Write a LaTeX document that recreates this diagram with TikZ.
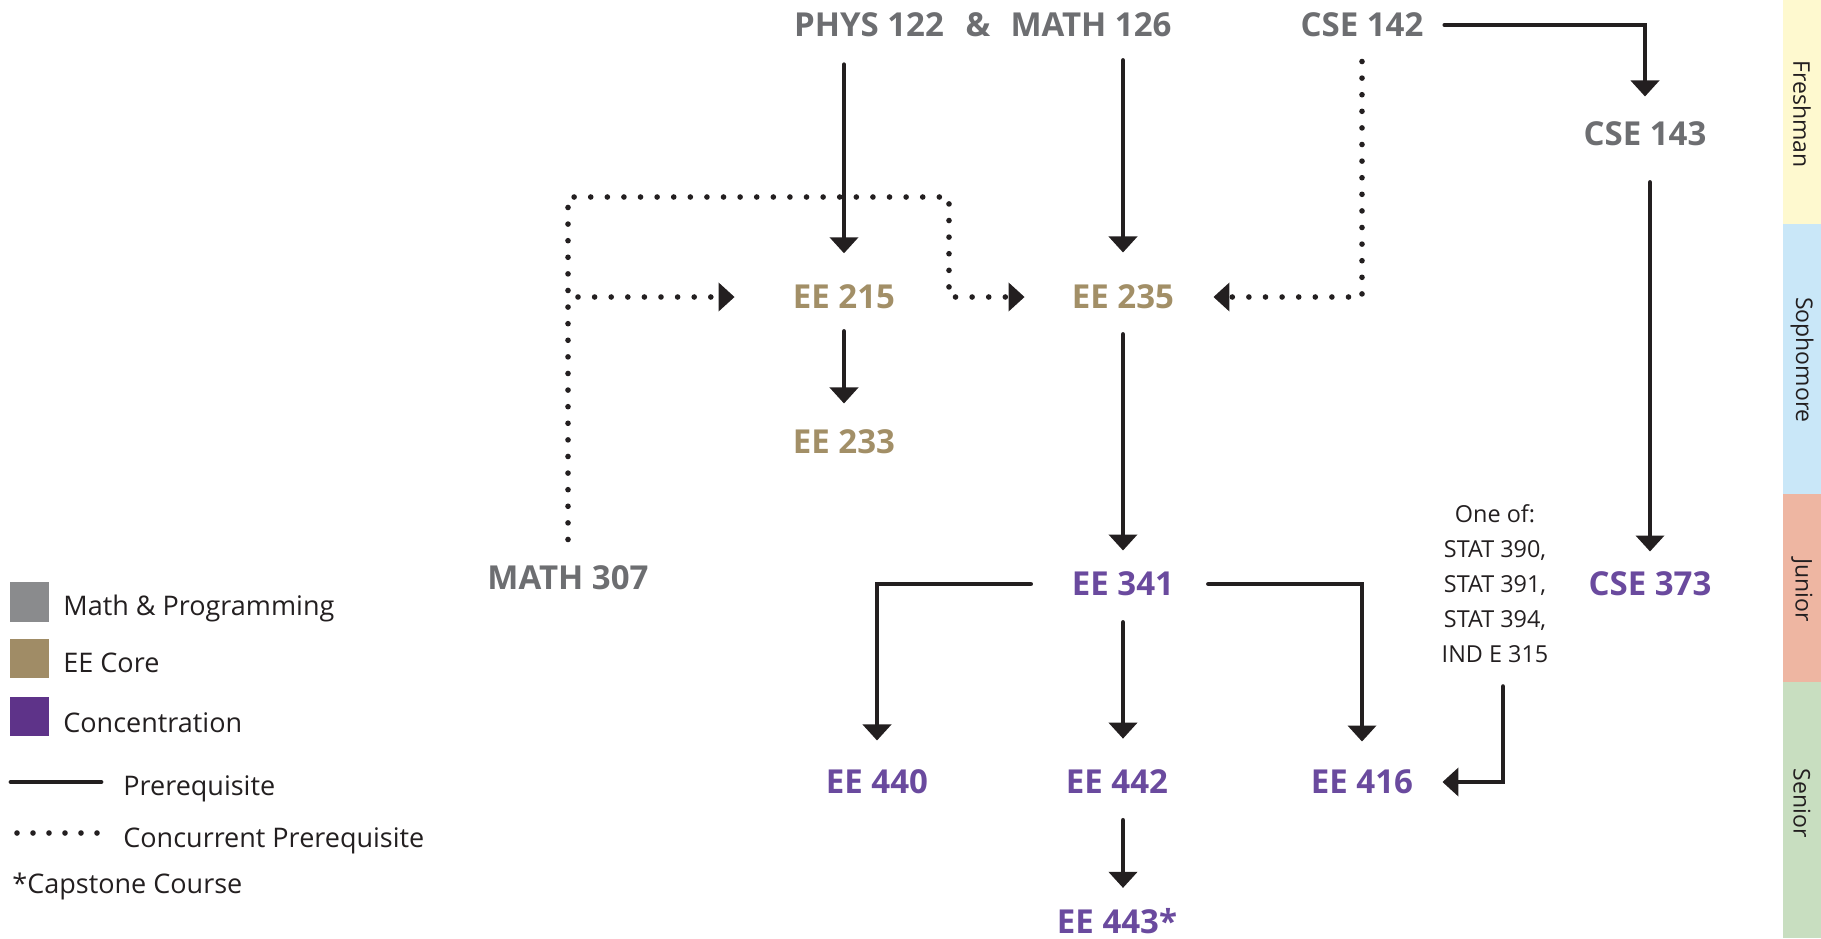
\documentclass[tikz,border=0pt]{standalone}
\usepackage{fontspec}
\setmainfont{Open Sans}
\usetikzlibrary{arrows.meta}
\definecolor{cgray}{HTML}{6D6E71}
\definecolor{cgold}{HTML}{A28F67}
\definecolor{cpurple}{HTML}{6A4A9E}
\definecolor{sqgray}{HTML}{8A8B8D}
\definecolor{sqgold}{HTML}{A08C66}
\definecolor{sqpurple}{HTML}{5E3389}
\definecolor{cdark}{HTML}{231F20}
\definecolor{bfresh}{HTML}{FEF9CF}
\definecolor{bsoph}{HTML}{C9E7F8}
\definecolor{bjun}{HTML}{EEB6A2}
\definecolor{bsen}{HTML}{C8DEC0}
\tikzset{
  course/.style={font=\fontsize{16.5}{20}\selectfont\bfseries, inner sep=0pt},
  mathc/.style={course, text=cgray},
  corec/.style={course, text=cgold},
  concc/.style={course, text=cpurple},
  pre/.style={draw=cdark, line width=2.4pt, line cap=round, -{Triangle[width=14pt,length=8pt]}},
  dotpre/.style={draw=cdark, line width=2.8pt, line cap=round, dash pattern=on 0pt off 8.3pt, -{Triangle[width=14pt,length=8pt]}},
  legtext/.style={font=\fontsize{13.5}{16}\selectfont, text=cdark, inner sep=0pt, anchor=base west},
  bandtext/.style={font=\fontsize{11.5}{14}\selectfont, text=cdark, rotate=-90, inner sep=0pt},
}
\begin{document}
\begin{tikzpicture}[x=0.5pt,y=-0.5pt]
\useasboundingbox (0,0) rectangle (1821,938);

% year bands
\fill[bfresh] (1783,0) rectangle (1821,224);
\fill[bsoph] (1783,224) rectangle (1821,494);
\fill[bjun] (1783,494) rectangle (1821,682);
\fill[bsen] (1783,682) rectangle (1821,938);
\node[bandtext] (fresh) at (1802,114) {Freshman};
\node[bandtext] (soph) at (1802,360) {Sophomore};
\node[bandtext] (jun) at (1802,590) {Junior};
\node[bandtext] (sen) at (1802,803) {Senior};

% courses
\node[mathc] (phys) at (869,25) {PHYS 122};
\node[mathc] (amp) at (978,25) {\&};
\node[mathc] (math126) at (1091,25) {MATH 126};
\node[mathc] (cse142) at (1362,25) {CSE 142};
\node[mathc] (cse143) at (1645,134) {CSE 143};
\node[corec] (ee215) at (844,297) {EE 215};
\node[corec] (ee235) at (1123,297) {EE 235};
\node[corec] (ee233) at (844,442) {EE 233};
\node[mathc] (math307) at (568,578) {MATH 307};
\node[concc] (ee341) at (1123,584) {EE 341};
\node[concc] (cse373) at (1650,584) {CSE 373};
\node[concc] (ee440) at (877,782) {EE 440};
\node[concc] (ee442) at (1117,782) {EE 442};
\node[concc] (ee416) at (1362,782) {EE 416};
\node[concc] (ee443) at (1117,921) {EE 443*};
\node[font=\fontsize{11.7}{17.5}\selectfont, text=cdark, align=center, anchor=base, inner sep=0pt] (oneof) at (1495,662)
  {One of:\\STAT 390,\\STAT 391,\\STAT 394,\\IND E 315};

% prerequisites (solid)
\draw[pre, shorten <=13.6pt, shorten >=15.6pt] (phys.south -| ee215.north) -- (ee215.north);
\draw[pre, shorten <=11.5pt, shorten >=16pt] (math126.south -| ee235.north) -- (ee235.north);
\draw[pre, shorten <=11pt, shorten >=13pt] (ee215.south) -- (ee233.north);
\draw[pre, shorten <=12.5pt, shorten >=10.5pt] (ee235.south) -- (ee341.north);
\draw[pre, shorten <=10.5pt, shorten >=12.5pt] (cse142.east) -| (cse143.north);
\draw[pre, shorten <=18pt, shorten >=10pt] (cse143.south -| cse373.north) -- (cse373.north);
\draw[pre, shorten <=20.5pt, shorten >=14.5pt] (ee341.west) -| (ee440.north);
\draw[pre, shorten <=13pt, shorten >=15.5pt] (ee341.south) -- (ee341.south |- ee442.north);
\draw[pre, shorten <=17pt, shorten >=14pt] (ee341.east) -| (ee416.north);
\draw[pre, shorten <=13pt, shorten >=10pt] (ee442.south -| ee341.south) -- (ee443.north -| ee341.south);
\draw[pre, shorten <=12pt, shorten >=14.5pt] ([xshift=4pt]oneof.south) |- (ee416.east);

% concurrent prerequisites (dotted)
\coordinate (dk) at (949,197);
\draw[dotpre, shorten <=13pt, shorten >=23.5pt] (math307.north) |- (dk) |- (ee235.west);
\draw[dotpre, shorten <=5pt, shorten >=29pt] (math307.north |- ee215.west) -- (ee215.west);
\draw[dotpre, shorten <=12pt, shorten >=19.5pt] (cse142.south) |- (ee235.east);

% legend
\fill[sqgray] (10,582) rectangle (49,622);
\fill[sqgold] (10,639) rectangle (49,678);
\fill[sqpurple] (10,697) rectangle (49,736);
\node[legtext] (lmath) at (63,615) {Math \& Programming};
\node[legtext] (lcore) at (63,672) {EE Core};
\node[legtext] (lconc) at (63,732) {Concentration};
\node[legtext] (lpre) at (123,795) {Prerequisite};
\node[legtext] (lcc) at (123,847) {Concurrent Prerequisite};
\node[legtext] (lcap) at (12,893) {*Capstone Course};
\coordinate (lpa) at (11,782);
\coordinate (lpb) at (101,782);
\draw[cdark, line width=2.4pt, line cap=round] (lpa) -- (lpb);
\coordinate (lca) at (17,833);
\coordinate (lcb) at (98,833);
\draw[cdark, line width=2.8pt, line cap=round, dash pattern=on 0pt off 8pt] (lca) -- (lcb);
\end{tikzpicture}
\end{document}
